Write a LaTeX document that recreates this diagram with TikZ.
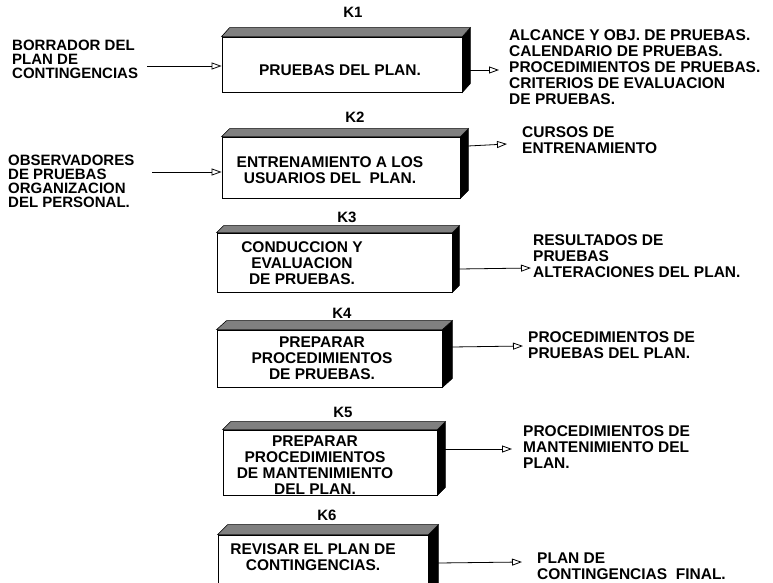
\documentclass[tikz,border=0pt]{standalone}
\usepackage{fontspec}
\setmainfont{Liberation Sans}
\usetikzlibrary{arrows.meta,fit}

\tikzset{
  face/.style={draw, line width=0.8pt, fill=white, inner sep=0pt},
  topface/.style={draw, line width=0.6pt, fill=black!50},
  sideface/.style={fill=black, draw=black, line width=0.6pt},
  boxtext/.style={font=\bfseries\fontsize{15.5}{16}\selectfont, align=center, inner sep=0pt},
  sidetext/.style={font=\bfseries\fontsize{15.5}{16}\selectfont, align=left, anchor=west, inner sep=0pt},
  intext/.style={font=\bfseries\fontsize{15}{14}\selectfont, align=left, anchor=west, inner sep=0pt},
  tag/.style={font=\bfseries\fontsize{15}{15}\selectfont, inner sep=0pt},
  flow/.style={line width=0.8pt, -{Triangle[open, length=10pt, width=7pt]}},
}

% block with a white front face, a shaded top and a black right side
% #1 name, (#2,#3) top left, (#4,#5) bottom right, #6/#7 depth in x / y
\newcommand\blockcube[7]{%
  \path (#2,#3) coordinate (#1-nw) (#4,#5) coordinate (#1-se);
  \node[face, fit=(#1-nw)(#1-se)] (#1) {};
  \draw[sideface] (#1.north east) -- ++(#6,-#7)
    -- ([shift={(#6,-#7)}]#1.south east) -- (#1.south east) -- cycle;
  \draw[topface] (#1.north west) -- ++(#6,-#7)
    -- ([shift={(#6,-#7)}]#1.north east) -- (#1.north east) -- cycle;
}

\begin{document}
\begin{tikzpicture}[x=1pt, y=-1pt]
  \useasboundingbox (0,0) rectangle (773,583);
  \clip (0,0) rectangle (773,583);

  % the six blocks
  \blockcube{b1}{222}{37}{462}{92}{8}{9}
  \blockcube{b2}{222}{137}{460}{198}{8}{8}
  \blockcube{b3}{217}{233}{452}{292}{7}{7}
  \blockcube{b4}{217}{330}{442}{387}{10}{9}
  \blockcube{b5}{223}{430}{437}{495}{8}{8}
  \blockcube{b6}{218}{535}{428}{600}{10}{10}

  % block tags
  \node[tag] (k1) at (353,12) {K1};
  \node[tag] (k2) at (355,117) {K2};
  \node[tag] (k3) at (347,217) {K3};
  \node[tag] (k4) at (342,313) {K4};
  \node[tag] (k5) at (343,412) {K5};
  \node[tag] (k6) at (327,515) {K6};

  % block contents
  \node[boxtext] (t1) at (340,70) {PRUEBAS DEL PLAN.};
  \node[boxtext] (t2) at (330,170) {ENTRENAMIENTO A LOS\\USUARIOS DEL\ \ PLAN.};
  \node[boxtext] (t3) at (302,263) {CONDUCCION Y\\EVALUACION\\DE PRUEBAS.};
  \node[boxtext] (t4) at (322,358) {PREPARAR\\PROCEDIMIENTOS\\DE PRUEBAS.};
  \node[boxtext] (t5) at (315,465) {PREPARAR\\PROCEDIMIENTOS\\DE MANTENIMIENTO\\DEL PLAN.};
  \node[boxtext] (t6) at (313,557) {REVISAR EL PLAN DE\\CONTINGENCIAS.};

  % inputs
  \node[intext] (in1) at (12,59) {BORRADOR DEL\\PLAN DE\\CONTINGENCIAS};
  \node[intext] (in2) at (8,181) {OBSERVADORES\\DE PRUEBAS\\ORGANIZACION\\DEL PERSONAL.};

  % outputs
  \node[sidetext] (r1) at (509,67) {ALCANCE Y OBJ. DE PRUEBAS.\\CALENDARIO DE PRUEBAS.\\PROCEDIMIENTOS DE PRUEBAS.\\CRITERIOS DE EVALUACION\\DE PRUEBAS.};
  \node[sidetext] (r2) at (522,140) {CURSOS DE\\ENTRENAMIENTO};
  \node[sidetext] (r3) at (533,256) {RESULTADOS DE\\PRUEBAS\\ALTERACIONES DEL PLAN.};
  \node[sidetext] (r4) at (528,345) {PROCEDIMIENTOS DE\\PRUEBAS DEL PLAN.};
  \node[sidetext] (r5) at (523,447) {PROCEDIMIENTOS DE\\MANTENIMIENTO DEL\\PLAN.};
  \node[sidetext] (r6) at (537,566) {PLAN DE\\CONTINGENCIAS\ \ FINAL.};

  % input connectors
  \coordinate (a1) at (147,66);
  \coordinate (a2) at (152,172);
  \draw[flow] (a1) -- (a1 -| b1.west);
  \draw[flow] (a2) -- (a2 -| b2.west);

  % output connectors, leaving the dark side of each block
  \coordinate (s1) at (470,70);  \coordinate (e1) at (499,70);
  \coordinate (s2) at (468,146); \coordinate (e2) at (507,144);
  \coordinate (s3) at (459,269); \coordinate (e3) at (531,268);
  \coordinate (s4) at (452,347); \coordinate (e4) at (523,346);
  \coordinate (s5) at (445,449); \coordinate (e5) at (512,449);
  \coordinate (s6) at (438,563); \coordinate (e6) at (522,562);
  \foreach \i in {1,...,6} \draw[flow] (s\i) -- (e\i);
\end{tikzpicture}
\end{document}
